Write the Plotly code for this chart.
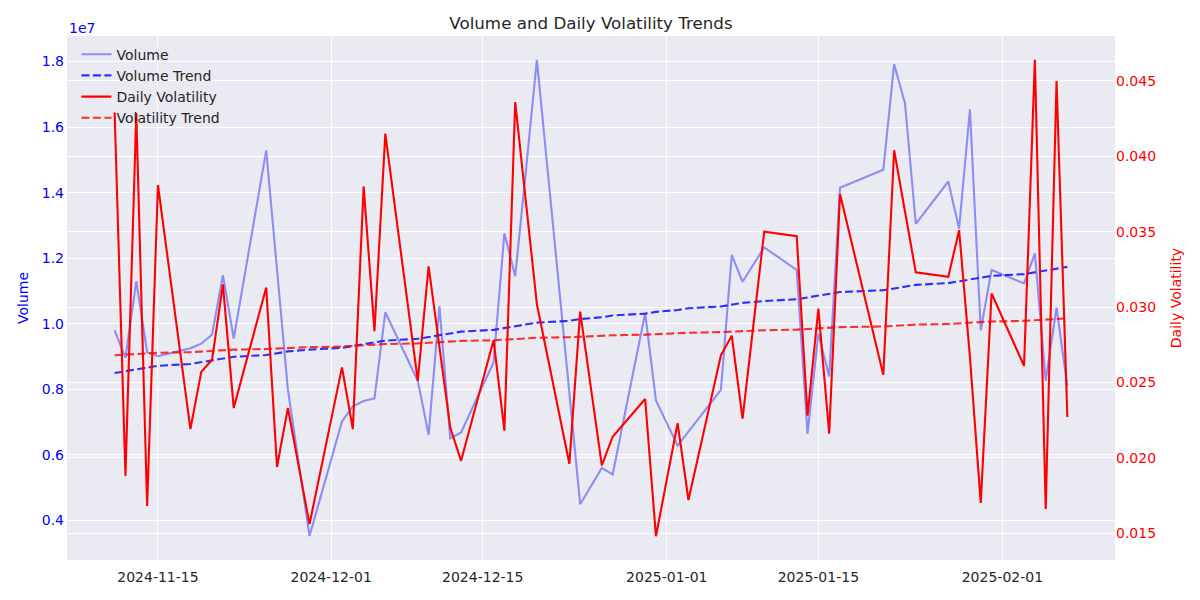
import numpy as np
import plotly.graph_objects as go

# ---- data ----
dates = [
    "2024-11-11", "2024-11-12", "2024-11-13", "2024-11-14", "2024-11-15",
    "2024-11-18", "2024-11-19", "2024-11-20", "2024-11-21", "2024-11-22",
    "2024-11-25", "2024-11-26", "2024-11-27", "2024-11-29",
    "2024-12-02", "2024-12-03", "2024-12-04", "2024-12-05", "2024-12-06",
    "2024-12-09", "2024-12-10", "2024-12-11", "2024-12-12", "2024-12-13",
    "2024-12-16", "2024-12-17", "2024-12-18", "2024-12-19", "2024-12-20",
    "2024-12-23", "2024-12-24", "2024-12-26", "2024-12-27", "2024-12-30",
    "2024-12-31",
    "2025-01-02", "2025-01-03", "2025-01-06", "2025-01-07", "2025-01-08",
    "2025-01-10", "2025-01-13", "2025-01-14", "2025-01-15", "2025-01-16",
    "2025-01-17", "2025-01-21", "2025-01-22", "2025-01-23", "2025-01-24",
    "2025-01-27", "2025-01-28", "2025-01-29", "2025-01-30", "2025-01-31",
    "2025-02-03", "2025-02-04", "2025-02-05", "2025-02-06", "2025-02-07",
]

volume = [
    9.80e6, 8.96e6, 11.30e6, 9.13e6, 9.01e6,
    9.25e6, 9.39e6, 9.67e6, 11.48e6, 9.55e6,
    15.29e6, 11.60e6, 8.00e6, 3.52e6,
    7.02e6, 7.48e6, 7.64e6, 7.72e6, 10.35e6,
    8.26e6, 6.61e6, 10.53e6, 6.50e6, 6.68e6,
    8.82e6, 12.76e6, 11.45e6, 14.70e6, 18.05e6,
    7.90e6, 4.49e6, 5.60e6, 5.40e6, 10.32e6,
    7.66e6,
    6.28e6, 6.70e6, 7.98e6, 12.10e6, 11.28e6,
    12.33e6, 11.64e6, 6.64e6, 9.70e6, 8.39e6,
    14.15e6, 14.70e6, 17.92e6, 16.73e6, 13.05e6,
    14.34e6, 12.90e6, 16.54e6, 9.80e6, 11.64e6,
    11.23e6, 12.15e6, 8.26e6, 10.49e6, 8.10e6,
]

daily_volatility = [
    0.0429, 0.0188, 0.04285, 0.0168, 0.0381,
    0.0219, 0.0257, 0.0265, 0.0315, 0.0233,
    0.0313, 0.0194, 0.0233, 0.0156,
    0.0260, 0.0219, 0.0380, 0.0284, 0.0415,
    0.0251, 0.0327, 0.0274, 0.0220, 0.0198,
    0.0278, 0.0218, 0.0436, 0.0369, 0.0302,
    0.0196, 0.0297, 0.0195, 0.0214, 0.0239,
    0.0148,
    0.0223, 0.0172, 0.0268, 0.0281, 0.0226,
    0.0350, 0.0347, 0.0228, 0.0299, 0.0216,
    0.0375, 0.0255, 0.0404, 0.0363, 0.0323,
    0.0320, 0.0351, 0.0267, 0.0170, 0.0309,
    0.0261, 0.0464, 0.0166, 0.0450, 0.0227,
]

x_tick_vals = ["2024-11-15", "2024-12-01", "2024-12-15", "2025-01-01", "2025-01-15", "2025-02-01"]
x_tick_text = ["2024-11-15", "2024-12-01", "2024-12-15", "2025-01-01", "2025-01-15", "2025-02-01"]
vol_tick_vals = [4e6, 6e6, 8e6, 10e6, 12e6, 14e6, 16e6, 18e6]
vol_tick_text = ["0.4", "0.6", "0.8", "1.0", "1.2", "1.4", "1.6", "1.8"]
volat_tick_vals = [0.015, 0.020, 0.025, 0.030, 0.035, 0.040, 0.045]
volat_tick_text = ["0.015", "0.020", "0.025", "0.030", "0.035", "0.040", "0.045"]

# ---- linear trends (fit against observation index) ----
idx = np.arange(len(dates))
volume_trend = np.polyval(np.polyfit(idx, volume, 1), idx)
volatility_trend = np.polyval(np.polyfit(idx, daily_volatility, 1), idx)

FONT = "DejaVu Sans"
TEXT = "#262626"
W, H = 1192, 592  # page body adds an 8px offset in the browser

fig = go.Figure()
fig.add_trace(go.Scatter(x=dates, y=volume, name="Volume", mode="lines",
                         line=dict(color="rgba(0,0,255,0.4)", width=2.1)))
fig.add_trace(go.Scatter(x=dates, y=volume_trend, name="Volume Trend", mode="lines",
                         line=dict(color="rgba(0,0,255,0.8)", width=2.1, dash="8px,3.5px")))
fig.add_trace(go.Scatter(x=dates, y=daily_volatility, name="Daily Volatility", mode="lines",
                         line=dict(color="rgb(255,0,0)", width=2.1), yaxis="y2"))
fig.add_trace(go.Scatter(x=dates, y=volatility_trend, name="Volatility Trend", mode="lines",
                         line=dict(color="rgba(255,0,0,0.8)", width=2.1, dash="8px,3.5px"), yaxis="y2"))

fig.update_layout(
    width=W, height=H,
    margin=dict(l=59, r=85, t=28, b=40),
    paper_bgcolor="white", plot_bgcolor="#EAEAF2",
    font=dict(family=FONT, size=14, color=TEXT),
    title=dict(text="Volume and Daily Volatility Trends", x=583 / W, xref="container",
               xanchor="center", y=1 - 15 / H, yref="container", yanchor="middle",
               font=dict(family=FONT, size=16.7, color=TEXT)),
    showlegend=True,
    legend=dict(x=0.009, y=0.995, xanchor="left", yanchor="top", bgcolor="rgba(0,0,0,0)",
                font=dict(family=FONT, size=14, color=TEXT), tracegroupgap=0),
    xaxis=dict(type="date", range=["2024-11-06 14:24", "2025-02-11 09:36"],
               tickmode="array", tickvals=x_tick_vals, ticktext=x_tick_text,
               showgrid=True, gridcolor="white", gridwidth=1.3, zeroline=False,
               showline=False, ticks="", ticklabelstandoff=7, automargin=False,
               tickfont=dict(family=FONT, size=14, color=TEXT)),
    yaxis=dict(range=[2.79e6, 1.878e7], tickmode="array", tickvals=vol_tick_vals,
               ticktext=vol_tick_text, showgrid=True, gridcolor="white", gridwidth=1.3,
               zeroline=False, showline=False, ticks="", ticklabelstandoff=2, automargin=False,
               tickfont=dict(family=FONT, size=14, color="blue"),
               title=dict(text="Volume", font=dict(family=FONT, size=14, color="blue"), standoff=9)),
    yaxis2=dict(overlaying="y", side="right", range=[0.01322, 0.04798], tickmode="array",
                tickvals=volat_tick_vals, ticktext=volat_tick_text, showgrid=True,
                gridcolor="white", gridwidth=1.3, zeroline=False, showline=False, ticks="",
                automargin=False,
                tickfont=dict(family=FONT, size=14, color="red"),
                title=dict(text="Daily Volatility", font=dict(family=FONT, size=14, color="red"), standoff=16)),
    annotations=[dict(text="1e7", x=0, xref="paper", y=1, yref="paper", xanchor="left",
                      yanchor="bottom", showarrow=False, yshift=-2,
                      font=dict(family=FONT, size=14, color="blue"))],
)

fig.write_html("out.html")
